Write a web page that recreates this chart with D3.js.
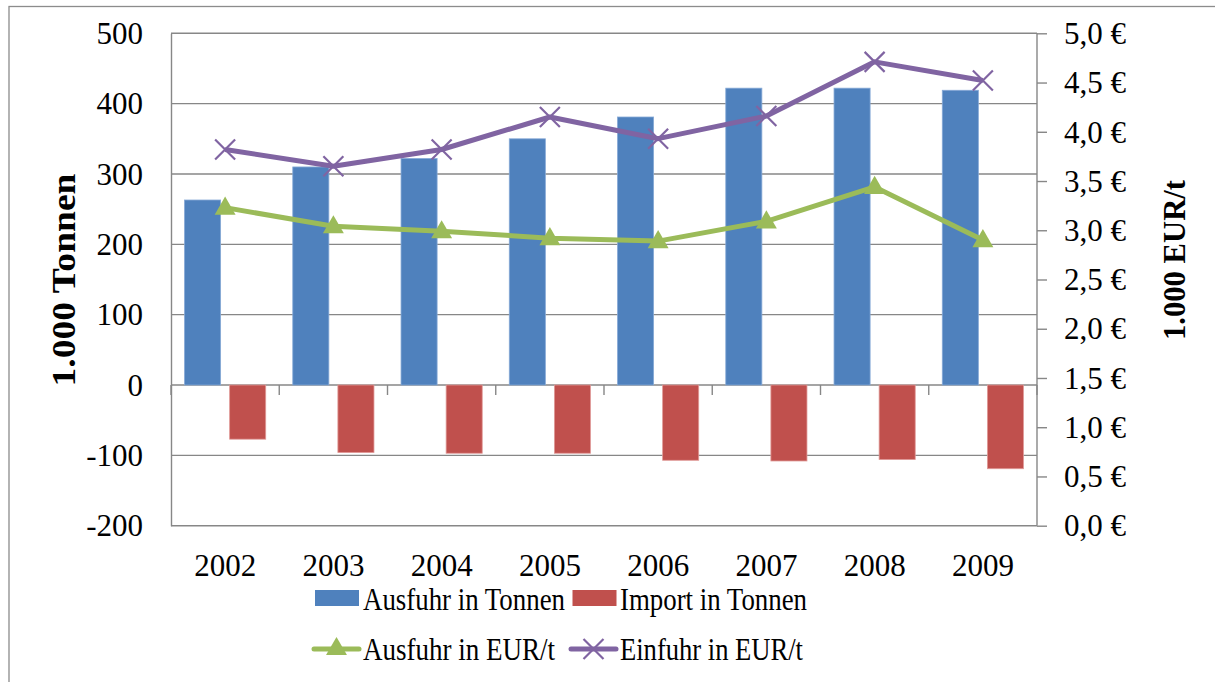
<!DOCTYPE html>
<html>
<head>
<meta charset="utf-8">
<script src="https://cdn.jsdelivr.net/npm/d3@7"></script>
<style>
  html, body { margin: 0; padding: 0; background: #fff; }
  svg { display: block; }
  text { font-family: "Liberation Serif", "Times New Roman", serif; fill: #000; }
</style>
</head>
<body>
<svg id="chart" width="1215" height="682"></svg>
<script>
// Jahre (Kategorien)
const years = ["2002", "2003", "2004", "2005", "2006", "2007", "2008", "2009"];
// Mengen in 1.000 Tonnen (linke Achse)
const ausfuhrTonnen = [263, 310, 322, 350, 381, 422, 422, 419];
const importTonnen = [-77, -96, -97, -97, -107, -108, -106, -119];
// Preise in 1.000 EUR/t (rechte Achse)
const ausfuhrEUR = [3.23, 3.04, 2.99, 2.92, 2.89, 3.09, 3.44, 2.90];
const einfuhrEUR = [3.82, 3.65, 3.82, 4.15, 3.93, 4.16, 4.71, 4.52];
// Achsenbeschriftungen
const leftTicks = [-200, -100, 0, 100, 200, 300, 400, 500];
const rightTicks = [0, 0.5, 1, 1.5, 2, 2.5, 3, 3.5, 4, 4.5, 5];
const legendLabels = ["Ausfuhr in Tonnen", "Import in Tonnen", "Ausfuhr in EUR/t", "Einfuhr in EUR/t"];

const colors = { blue: "#4F81BD", red: "#C0504D", green: "#9BBB59", purple: "#8064A2", grid: "#878787" };

const svg = d3.select("#chart");
const plot = { left: 171, right: 1037, top: 33.3, bottom: 525.7 };

// Rahmen um das Diagramm
svg.append("rect")
  .attr("x", 9).attr("y", 6.5).attr("width", 1300).attr("height", 800)
  .attr("fill", "none").attr("stroke", "#8c8c8c").attr("stroke-width", 1.3);

const x = d3.scaleBand().domain(years).range([plot.left, plot.right]).padding(0);
const yL = d3.scaleLinear().domain([-200, 500]).range([plot.bottom, plot.top]);
const yR = d3.scaleLinear().domain([0, 5]).range([plot.bottom, plot.top]);

// Gitternetzlinien
svg.append("g").selectAll("line").data(leftTicks).join("line")
  .attr("x1", plot.left).attr("x2", plot.right)
  .attr("y1", d => yL(d)).attr("y2", d => yL(d))
  .attr("stroke", colors.grid).attr("stroke-width", 1.4);

// Linke Achse (Bindestrich als Minuszeichen)
const axisL = svg.append("g").attr("transform", `translate(${plot.left},0)`)
  .call(d3.axisLeft(yL).tickValues(leftTicks).tickSize(0).tickPadding(28).tickFormat(d => String(d)));
axisL.select(".domain").attr("stroke", colors.grid).attr("stroke-width", 1.4);
axisL.selectAll("text").attr("font-size", 31).attr("font-family", "Liberation Serif").attr("dy", "0.33em");

// Rechte Achse
const fmtEUR = d => d.toFixed(1).replace(".", ",") + " €";
const axisR = svg.append("g").attr("transform", `translate(${plot.right},0)`)
  .call(d3.axisRight(yR).tickValues(rightTicks).tickSize(10).tickPadding(17).tickFormat(fmtEUR));
axisR.select(".domain").attr("stroke", colors.grid).attr("stroke-width", 1.4).attr("d", `M0,${plot.top}V${plot.bottom}`);
axisR.selectAll(".tick line").attr("stroke", colors.grid).attr("stroke-width", 1.4);
axisR.selectAll("text").attr("font-size", 31).attr("font-family", "Liberation Serif").attr("dy", "0.33em");

// Kategorienachse auf der Nulllinie
const bounds = years.map(y => x(y)).concat([plot.right]);
svg.append("g").selectAll("line").data(bounds).join("line")
  .attr("x1", d => d).attr("x2", d => d)
  .attr("y1", yL(0)).attr("y2", yL(0) + 10)
  .attr("stroke", colors.grid).attr("stroke-width", 1.4);

// Jahreszahlen
svg.append("g").selectAll("text").data(years).join("text")
  .attr("x", d => x(d) + x.bandwidth() / 2).attr("y", 576)
  .attr("text-anchor", "middle").attr("font-size", 31).text(d => d);

// Säulen: Lückenbreite 75 %, Abstand zwischen Reihen 25 %
const bw = x.bandwidth() / 3;
const offBlue = bw * 0.375, offRed = bw * 0.375 + bw * 1.25;

svg.append("g").selectAll("rect").data(years).join("rect")
  .attr("x", (d) => x(d) + offBlue)
  .attr("width", bw)
  .attr("y", (d, i) => yL(ausfuhrTonnen[i]))
  .attr("height", (d, i) => yL(0) - yL(ausfuhrTonnen[i]))
  .attr("fill", colors.blue).attr("stroke", "#86a9d6").attr("stroke-width", 0.8);

svg.append("g").selectAll("rect").data(years).join("rect")
  .attr("x", (d) => x(d) + offRed)
  .attr("width", bw)
  .attr("y", yL(0))
  .attr("height", (d, i) => yL(importTonnen[i]) - yL(0))
  .attr("fill", colors.red).attr("stroke", "#e09a98").attr("stroke-width", 0.8);

// Linien
const cx = d => x(d) + x.bandwidth() / 2;
const line = vals => d3.line().x((d, i) => cx(years[i])).y(d => yR(d))(vals);

svg.append("path").attr("d", line(ausfuhrEUR))
  .attr("fill", "none").attr("stroke", colors.green).attr("stroke-width", 5).attr("stroke-linejoin", "round");
svg.append("path").attr("d", line(einfuhrEUR))
  .attr("fill", "none").attr("stroke", colors.purple).attr("stroke-width", 5).attr("stroke-linejoin", "round");

const tri = d3.symbol().type(d3.symbolTriangle).size(190);
const triangle = (g, px, py) => g.append("path").attr("d", tri())
  .attr("transform", `translate(${px},${py})`).attr("fill", colors.green);
const cross = (g, px, py) => g.append("path")
  .attr("d", `M${px - 10},${py - 10}L${px + 10},${py + 10}M${px - 10},${py + 10}L${px + 10},${py - 10}`)
  .attr("stroke", colors.purple).attr("stroke-width", 2.2).attr("fill", "none");

const markers = svg.append("g");
ausfuhrEUR.forEach((v, i) => triangle(markers, cx(years[i]), yR(v) + 1));
einfuhrEUR.forEach((v, i) => cross(markers, cx(years[i]), yR(v)));

// Achsentitel
svg.append("text")
  .attr("transform", `translate(75,280) rotate(-90)`)
  .attr("text-anchor", "middle").attr("font-weight", "bold").attr("font-size", 33)
  .attr("textLength", 213).attr("lengthAdjust", "spacingAndGlyphs")
  .text("1.000 Tonnen");
svg.append("text")
  .attr("transform", `translate(1185,260) rotate(-90)`)
  .attr("text-anchor", "middle").attr("font-weight", "bold").attr("font-size", 32)
  .attr("textLength", 160).attr("lengthAdjust", "spacingAndGlyphs")
  .text("1.000 EUR/t");

// Legende
const lg = svg.append("g");
lg.append("rect").attr("x", 315).attr("y", 590).attr("width", 44).attr("height", 16).attr("fill", colors.blue);
lg.append("rect").attr("x", 572.5).attr("y", 590).attr("width", 44).attr("height", 16).attr("fill", colors.red);
lg.append("line").attr("x1", 314).attr("x2", 359).attr("y1", 649).attr("y2", 649)
  .attr("stroke", colors.green).attr("stroke-width", 5).attr("stroke-linecap", "round");
triangle(lg, 336.5, 649);
lg.append("line").attr("x1", 571).attr("x2", 616).attr("y1", 649).attr("y2", 649)
  .attr("stroke", colors.purple).attr("stroke-width", 5).attr("stroke-linecap", "round");
cross(lg, 593.5, 649);

const legendPos = [[363, 610], [620, 610], [363, 660], [620, 660]];
const legendLen = [202, 187, 192, 183];
lg.selectAll("text.lab").data(legendLabels).join("text")
  .attr("class", "lab")
  .attr("x", (d, i) => legendPos[i][0]).attr("y", (d, i) => legendPos[i][1])
  .attr("font-size", 31)
  .attr("textLength", (d, i) => legendLen[i]).attr("lengthAdjust", "spacingAndGlyphs")
  .text(d => d);
</script>
</body>
</html>
